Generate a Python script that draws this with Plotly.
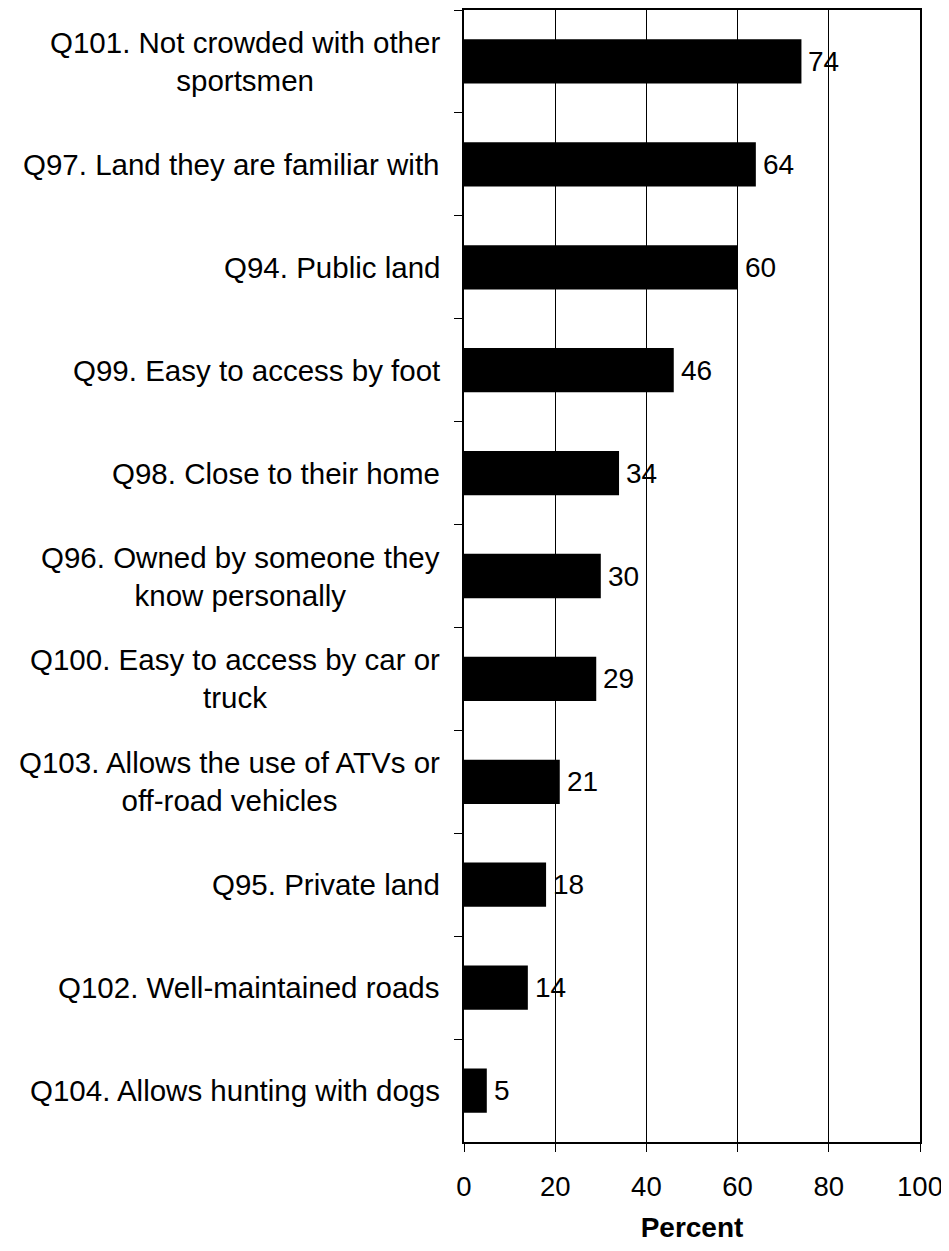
import plotly.graph_objects as go

# categories top -> bottom
labels = [
    "Q101. Not crowded with other<br>sportsmen",
    "Q97. Land they are familiar with",
    "Q94. Public land",
    "Q99. Easy to access by foot",
    "Q98. Close to their home",
    "Q96. Owned by someone they<br>know personally",
    "Q100. Easy to access by car or<br>truck",
    "Q103. Allows the use of ATVs or<br>off-road vehicles",
    "Q95. Private land",
    "Q102. Well-maintained roads",
    "Q104. Allows hunting with dogs",
]
keys = [l.split(".")[0] for l in labels]
percent = [74, 64, 60, 46, 34, 30, 29, 21, 18, 14, 5]
xticks = [0, 20, 40, 60, 80, 100]

FONT = "Liberation Sans, Arial, sans-serif"

fig = go.Figure()
fig.add_trace(go.Bar(
    x=percent, y=keys, orientation="h",
    marker=dict(color="black", line=dict(width=0)),
))

# category labels as annotations so the wrapped lines are centred
for k, l in zip(keys, labels):
    fig.add_annotation(
        x=0, y=k, xref="x", yref="y", text=l, showarrow=False,
        xanchor="right", yanchor="middle", align="center", xshift=-22,
        font=dict(size=29.5, color="black", family=FONT),
    )

# value labels just past the bar ends
for k, v in zip(keys, percent):
    fig.add_annotation(
        x=v, y=k, xref="x", yref="y", text=str(v), showarrow=False,
        xanchor="left", yanchor="middle", xshift=5,
        font=dict(size=28, color="black", family=FONT),
    )

# page body adds 8px margin, so keep the figure inside the window
fig.update_layout(
    width=941, height=1235,
    margin=dict(l=456, r=29, t=2, b=101),
    plot_bgcolor="white", paper_bgcolor="white",
    bargap=0.57, showlegend=False,
    font=dict(family=FONT, color="black", size=28),
    xaxis=dict(
        range=[0, 100], tickvals=xticks, ticks="outside", ticklen=8,
        tickcolor="black", tickwidth=1, showgrid=True, gridcolor="black",
        gridwidth=1, showline=True, linecolor="black", linewidth=2,
        mirror=True, zeroline=False, tickfont=dict(size=27.5),
        ticklabelstandoff=11, automargin=False,
        title=dict(text="<b>Percent</b>", font=dict(size=28), standoff=23),
    ),
    yaxis=dict(
        categoryorder="array", categoryarray=keys, autorange="reversed",
        showticklabels=False, ticks="outside", tickson="boundaries",
        ticklen=8, tickcolor="black", tickwidth=1, showgrid=False,
        showline=True, linecolor="black", linewidth=2, mirror=True,
    ),
)

fig.write_html("out.html")
